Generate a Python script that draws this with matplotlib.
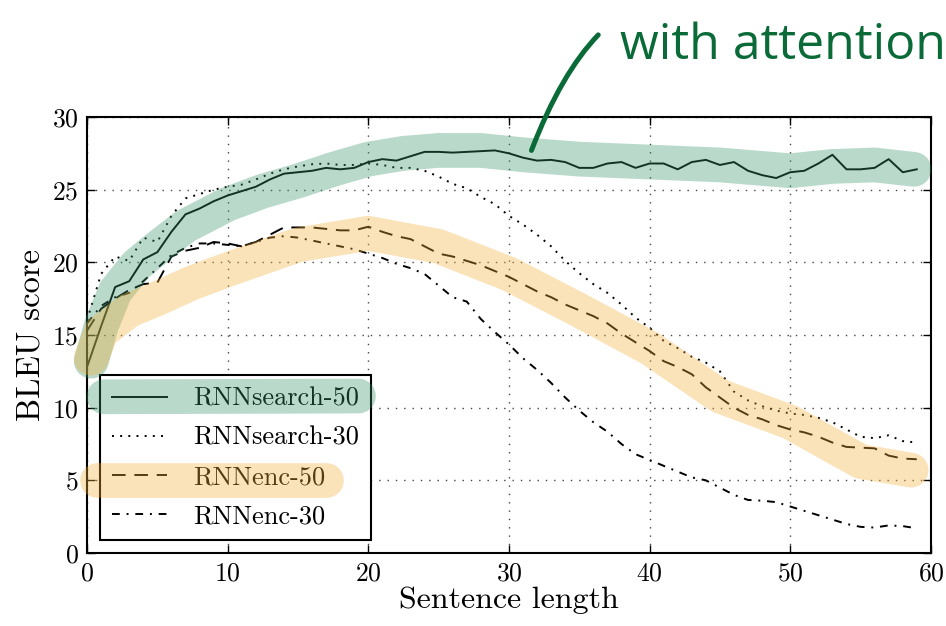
import numpy as np
import matplotlib.pyplot as plt
from matplotlib.path import Path
from matplotlib.patches import PathPatch

# sentence length bins
length = list(range(60))

rnnsearch50 = [12.8, 15.6, 18.3, 18.7, 20.2, 20.7, 22.1, 23.3, 23.7, 24.2,
               24.6, 24.9, 25.2, 25.7, 26.1, 26.2, 26.3, 26.5, 26.4, 26.5,
               26.9, 27.1, 27.0, 27.3, 27.6, 27.6, 27.55, 27.6, 27.65, 27.7,
               27.5, 27.2, 27.0, 27.05, 26.9, 26.5, 26.5, 26.8, 26.9, 26.5,
               26.8, 26.8, 26.4, 26.9, 27.05, 26.7, 26.9, 26.3, 26.0, 25.8,
               26.2, 26.3, 26.8, 27.4, 26.4, 26.4, 26.5, 27.1, 26.2, 26.4]
rnnsearch30 = [16.0, 19.2, 20.4, 20.1, 21.7, 21.4, 23.2, 24.4, 24.7, 25.0,
               25.2, 25.35, 25.7, 26.1, 26.4, 26.6, 26.75, 26.8, 26.7, 26.7,
               26.8, 26.7, 26.5, 26.5, 26.3, 25.9, 25.4, 25.1, 24.5, 24.0,
               23.2, 22.6, 21.9, 21.1, 20.1, 19.25, 18.5, 17.9, 17.1, 16.2,
               15.5, 14.6, 14.1, 13.5, 13.1, 12.5, 11.1, 10.5, 10.1, 9.8,
               9.6, 9.5, 9.3, 9.0, 8.5, 8.0, 7.9, 8.1, 7.7, 7.6]
rnnenc50 = [15.3, 16.8, 17.5, 18.1, 18.5, 18.6, 20.4, 20.8, 21.0, 21.4,
            21.3, 21.1, 21.4, 21.9, 22.4, 22.4, 22.4, 22.3, 22.2, 22.2,
            22.45, 22.1, 21.8, 21.6, 21.1, 20.6, 20.4, 20.1, 19.8, 19.4,
            19.0, 18.5, 18.0, 17.6, 17.1, 16.7, 16.3, 15.8, 15.1, 14.5,
            13.9, 13.2, 12.8, 12.3, 11.4, 10.7, 10.0, 9.5, 9.2, 8.8,
            8.5, 8.3, 8.0, 7.6, 7.3, 7.25, 7.2, 6.7, 6.5, 6.45]
rnnenc30 = [15.8, 17.0, 17.6, 17.9, 18.7, 19.6, 20.5, 21.0, 21.3, 21.3,
            21.2, 21.1, 21.4, 21.7, 21.8, 21.7, 21.5, 21.3, 21.1, 20.9,
            20.6, 20.3, 19.9, 19.6, 19.2, 18.4, 17.6, 17.3, 16.1, 15.2,
            14.35, 13.4, 12.6, 11.7, 10.7, 9.8, 9.0, 8.35, 7.5, 6.8,
            6.4, 6.0, 5.6, 5.2, 5.0, 4.5, 4.0, 3.65, 3.6, 3.5,
            3.2, 2.9, 2.6, 2.3, 2.0, 1.8, 1.75, 1.9, 1.85, 1.7]

# hand-drawn highlighter strokes (data coords)
green_hl_x = [0.3, 1, 2, 3.5, 5, 7, 10, 12.5, 15, 17.5, 20, 22.5, 25, 28,
              31, 35, 40, 45, 50, 53, 56, 58.8]
green_hl_y = [13.2, 15.6, 18.0, 19.8, 21.0, 22.5, 24.0, 24.9, 25.6, 26.4,
              27.1, 27.5, 27.7, 27.7, 27.4, 27.1, 26.9, 26.7, 26.3, 26.6,
              26.7, 26.4]
orange_hl_x = [0.3, 1, 3, 5, 7.5, 10, 15, 20, 25, 30, 35, 40, 45, 50, 55, 58.6]
orange_hl_y = [13.4, 15.2, 16.7, 17.5, 18.6, 19.5, 21.2, 22.0, 21.1, 19.2,
               16.7, 14.1, 10.8, 9.0, 6.3, 5.7]
legend_green_hl = ([1.2, 19.3], [10.75, 10.8])
legend_orange_hl = ([0.7, 17.0], [5.0, 5.0])
# pointer stroke: start, control, end
pointer = [(31.6, 27.7), (33.7, 33.0), (36.35, 35.65)]

GREEN = (55 / 255, 146 / 255, 106 / 255)
ORANGE = (246 / 255, 175 / 255, 55 / 255)
INK = "#0a6b38"

plt.rcParams["font.family"] = ["cmr10", "DejaVu Serif"]
plt.rcParams["axes.formatter.use_mathtext"] = True

fig = plt.figure(figsize=(9.46, 6.26), dpi=100)
ax = fig.add_axes([0.092, 0.1166, 0.892, 0.6965])

ax.plot(length, rnnsearch50, color="k", lw=1.4, ls="-", label="RNNsearch-50")
ax.plot(length, rnnsearch30, color="k", lw=1.4, ls=(0, (1, 3.2)), label="RNNsearch-30")
ax.plot(length, rnnenc50, color="k", lw=1.4, ls=(0, (7, 4.5)), label="RNNenc-50")
ax.plot(length, rnnenc30, color="k", lw=1.4, ls=(0, (4, 3.5, 1, 3.5)), label="RNNenc-30")

ax.set_xlim(0, 60)
ax.set_ylim(0, 30)
ax.set_xticks(range(0, 61, 10))
ax.set_yticks(range(0, 31, 5))
ax.tick_params(direction="in", length=6, width=1.0, top=True, right=True,
               labelsize=18.5, pad=6)
ax.grid(True, ls=(0, (1, 5)), color="#444444", lw=1.0)
for s in ax.spines.values():
    s.set_linewidth(1.5)
ax.set_xlabel("Sentence length", fontsize=23, labelpad=1)
ax.set_ylabel("BLEU score", fontsize=23.5, labelpad=5)

leg = ax.legend(loc="lower left", bbox_to_anchor=(0.015, 0.03), borderaxespad=0,
                fontsize=19, handlelength=2.1, handletextpad=1.0,
                fancybox=False, framealpha=1, edgecolor="k",
                borderpad=0.45, labelspacing=0.58)
leg.get_frame().set_linewidth(1.5)

# highlighter strokes on top
ax.plot(green_hl_x, green_hl_y, color=GREEN, alpha=0.35, lw=25,
        solid_capstyle="round", solid_joinstyle="round", zorder=10, clip_on=False)
ax.plot(orange_hl_x, orange_hl_y, color=ORANGE, alpha=0.35, lw=25,
        solid_capstyle="round", solid_joinstyle="round", zorder=11, clip_on=False)
ax.plot(*legend_green_hl, color=GREEN, alpha=0.35, lw=25,
        solid_capstyle="round", zorder=10, clip_on=False)
ax.plot(*legend_orange_hl, color=ORANGE, alpha=0.35, lw=25,
        solid_capstyle="round", zorder=11, clip_on=False)

path = Path(pointer, [Path.MOVETO, Path.CURVE3, Path.CURVE3])
ax.add_patch(PathPatch(path, fc="none", ec=INK, lw=3.6, capstyle="round",
                       zorder=12, clip_on=False))
fig.text(0.655, 0.905, "with attention", color=INK, fontsize=36,
         family=["Open Sans", "DejaVu Sans"], va="baseline", ha="left")

fig.savefig("out.png", dpi=100)
